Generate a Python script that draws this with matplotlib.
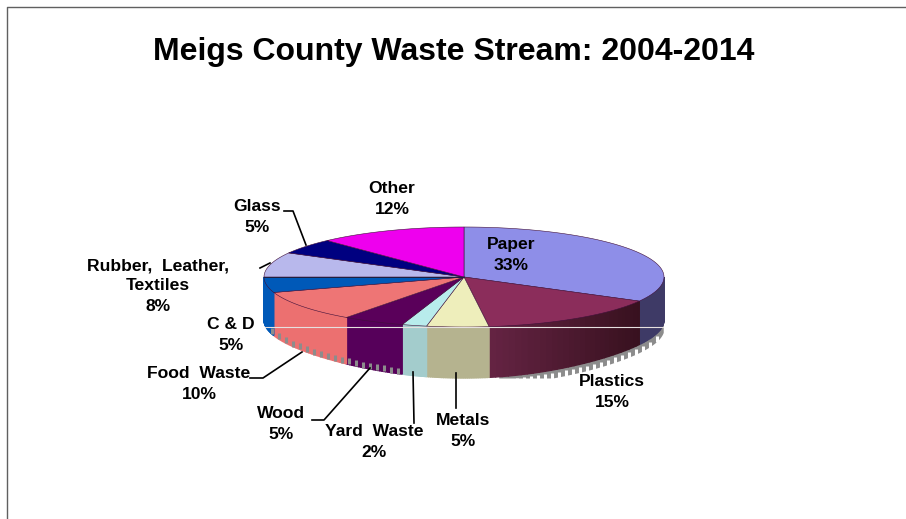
import numpy as np
import matplotlib
matplotlib.use('Agg')
import matplotlib.pyplot as plt

plt.rcParams['font.family'] = ['Liberation Sans', 'DejaVu Sans']

title = 'Meigs County Waste Stream: 2004-2014'
names = ['Paper', 'Plastics', 'Metals', 'Yard Waste', 'Wood', 'Food Waste', 'C & D', 'Rubber, Leather, Textiles', 'Glass', 'Other']
values = [33, 15, 5, 2, 5, 10, 5, 8, 5, 12]
top_colors = ['#8e8ee8', '#8b2d5b', '#eeeebb', '#b8ecec', '#5a005a', '#ee7575', '#0059b8', '#b8b8ec', '#000080', '#ee00ee']
wall_left = ['#3e3a66', '#662444', '#b5b38f', '#a3cccc', '#56005a', '#ec7070', '#0059b8', '#b8b8ec', '#000080', '#ee00ee']
wall_right = ['#3e3a66', '#38111f', '#b5b38f', '#a3cccc', '#56005a', '#ec7070', '#0059b8', '#b8b8ec', '#000080', '#ee00ee']

# label text, position, leader line
labels = [
    ('Paper\n33%', 511, 255),
    ('Plastics\n15%', 612, 392),
    ('Metals\n5%', 463, 431),
    ('Yard  Waste\n2%', 374, 442),
    ('Wood\n5%', 281, 424),
    ('Food  Waste\n10%', 199, 384),
    ('C & D\n5%', 231, 335),
    ('Rubber,  Leather,\nTextiles\n8%', 158, 286),
    ('Glass\n5%', 257, 217),
    ('Other\n12%', 392, 199),
]
leaders = [
    ([284, 293, 306], [211, 211, 245]),
    ([260, 270], [268, 263]),
    ([250, 263, 302], [378, 378, 352]),
    ([312, 324, 370], [420, 420, 368]),
    ([414, 413], [423, 372]),
    ([456, 456], [408, 373]),
]

cx, cy, rx, ry, floor = 464, 277, 200, 50, 378


def rim(theta):
    return cx + rx * np.sin(theta), cy - ry * np.cos(theta)


def wall_bottom(theta):
    # the wall gets a bit deeper towards the front, and the picture is cut at floor
    d = 43 + 8 * np.abs(np.cos(theta)) ** 4
    return np.minimum(rim(theta)[1] + d, floor)


fig = plt.figure(figsize=(9.06, 5.19), dpi=100)
ax = fig.add_axes([0, 0, 1, 1])
ax.set_xlim(0, 906)
ax.set_ylim(519, 0)
ax.axis('off')

# frame of the slide, only top and left show
ax.plot([6.5, 6.5, 906], [519, 7, 7], color='#606060', lw=1)

edges = np.radians(np.cumsum([0] + values) * 3.6)

# shadow + jagged bottom
th = np.radians(np.linspace(95, 170, 200))
x, y = rim(th)
yb = wall_bottom(th)
ax.fill_between(x, yb - 1, np.minimum(yb + 8, floor), color='#8c8c8c', lw=0, zorder=1)

# walls
for i in range(len(values)):
    a = max(edges[i], np.pi / 2)
    b = min(edges[i + 1], 3 * np.pi / 2)
    if b <= a:
        continue
    th = np.linspace(a, b, 30)
    x, y = rim(th)
    yb = wall_bottom(th)
    c0 = np.array(matplotlib.colors.to_rgb(wall_left[i]))
    c1 = np.array(matplotlib.colors.to_rgb(wall_right[i]))
    for j in range(len(th) - 1):
        f = (x[j] - x.min()) / (x.max() - x.min())
        qx = [x[j], x[j + 1], x[j + 1], x[j]]
        qy = [y[j], y[j + 1], yb[j + 1], yb[j]]
        col = c0 + (c1 - c0) * f
        ax.fill(qx, qy, facecolor=col, edgecolor=col, lw=1.0, zorder=2)

# top slices
for i in range(len(values)):
    th = np.linspace(edges[i], edges[i + 1], 80)
    x, y = rim(th)
    ax.fill(np.r_[cx, x], np.r_[cy, y], facecolor=top_colors[i], edgecolor='#40103a', lw=0.4, zorder=3)

# stripes along the lower edge
for px in np.arange(272, 660, 7.0):
    t = np.pi - np.arcsin((px - cx) / rx)
    bottom = wall_bottom(t)
    if px > 515:
        ax.plot([px, px], [bottom + 3, bottom + 9], color='white', lw=2.2, zorder=4, solid_capstyle='butt')
    elif px < 400:
        ax.plot([px, px], [bottom - 6, bottom], color='#8c8c8c', lw=2.2, zorder=4, solid_capstyle='butt')

ax.plot([265, 663], [327, 327], color='#e6e0e0', lw=0.8, zorder=5)
ax.plot([264, 464], [277, 277], color='#202040', lw=0.7, zorder=5)

for lx, ly in leaders:
    ax.plot(lx, ly, color='black', lw=1.2, zorder=6)

ax.text(453.5, 52, title, ha='center', va='center', fontsize=23, fontweight='bold')
for text, tx, ty in labels:
    ax.text(tx, ty, text, ha='center', va='center', fontsize=12.6, fontweight='bold', linespacing=1.45, zorder=7)

fig.savefig('out.png', dpi=100)
